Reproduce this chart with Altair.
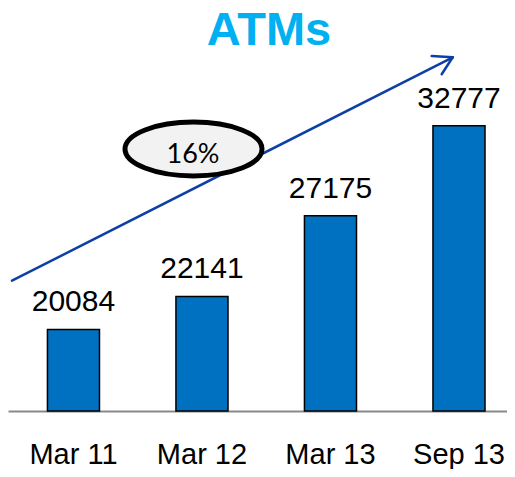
import altair as alt
import pandas as pd

periods = ["Mar 11", "Mar 12", "Mar 13", "Sep 13"]
atms = [20084, 22141, 27175, 32777]
growth_label = "16%"
title_text = "ATMs"

df = pd.DataFrame({"period": periods, "atms": atms})

W, H = 499, 403
Y_MIN = 15000
xscale = alt.Scale(domain=periods, paddingInner=0.595, paddingOuter=0.239, align=0.642)
yscale = alt.Scale(domain=[Y_MIN, 40125], nice=False, zero=False)

base = alt.Chart(df)

bars = base.mark_bar(color="#0070C0", stroke="#000000", strokeWidth=1.5).encode(
    x=alt.X("period:N", scale=xscale, sort=periods, title=None,
            axis=alt.Axis(labelAngle=0, labelFont="Liberation Sans", labelFontSize=29,
                          labelColor="#000000", labelBaseline="alphabetic", labelPadding=52,
                          ticks=False, domainColor="#898989", domainWidth=2)),
    y=alt.Y("atms:Q", scale=yscale, axis=None),
    y2=alt.datum(Y_MIN),
)

labels = base.mark_text(font="Liberation Sans", fontSize=30, color="#000000",
                        baseline="alphabetic", dy=-18).encode(
    x=alt.X("period:N", scale=xscale, sort=periods),
    y=alt.Y("atms:Q", scale=yscale),
    text=alt.Text("atms:Q", format="d"),
)

one = alt.Data(values=[{"k": 1}])
arrow_color = "#0D3FA6"

def seg(x1, y1, x2, y2):
    return alt.Chart(one).mark_rule(color=arrow_color, strokeWidth=2.5, strokeCap="round").encode(
        x=alt.value(x1), y=alt.value(y1), x2=alt.value(x2), y2=alt.value(y2))

shaft = seg(4, 272.7, 444.7, 49.3)
wing1 = seg(444.7, 49.3, 423.7, 48.0)
wing2 = seg(444.7, 49.3, 433.7, 66.3)

ellipse = alt.Chart(one).mark_point(
    shape="M -1 0 A 1 0.393 0 1 1 1 0 A 1 0.393 0 1 1 -1 0 Z",
    size=137 ** 2, filled=False, fill="#F2F2F2", fillOpacity=1, stroke="#000000",
    strokeWidth=5, opacity=1).encode(x=alt.value(185.5), y=alt.value(141))

pct = alt.Chart(one).mark_text(font="Lato", fontSize=27, color="#000000",
                               baseline="alphabetic", align="center").encode(
    x=alt.value(185), y=alt.value(154.7), text=alt.value(growth_label))

title = alt.Chart(one).mark_text(font="Liberation Sans", fontSize=47, fontWeight="bold",
                                 color="#00B0F0", baseline="alphabetic", align="center").encode(
    x=alt.value(261), y=alt.value(36.5), text=alt.value(title_text))

chart = alt.layer(bars, labels, shaft, wing1, wing2, ellipse, pct, title).properties(
    width=W, height=H,
    autosize=alt.AutoSizeParams(type="none"),
    padding={"left": 0, "top": 0, "right": 0, "bottom": 58},
).configure_view(stroke=None).configure_axis(grid=False)

chart.save("out.html", embed_options={"renderer": "svg", "actions": False})
